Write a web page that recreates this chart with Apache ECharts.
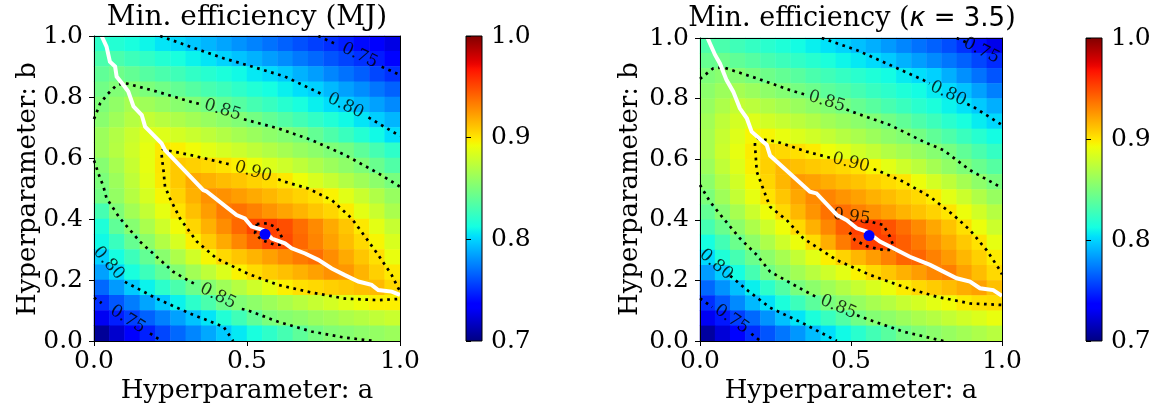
<!DOCTYPE html>
<html>
<head>
<meta charset="utf-8">
<script src="https://cdn.jsdelivr.net/npm/echarts@6/dist/echarts.min.js"></script>
<style>
  html, body { margin: 0; padding: 0; background: #fff; }
  #chart { width: 1151px; height: 411px; }
</style>
</head>
<body>
<div id="chart"></div>
<script>
// ---------- data ----------
// cell centres along both hyperparameter axes (20 x 20 grid)
const cellCenters = [0.025, 0.075, 0.125, 0.175, 0.225, 0.275, 0.325, 0.375, 0.425, 0.475,
                     0.525, 0.575, 0.625, 0.675, 0.725, 0.775, 0.825, 0.875, 0.925, 0.975];
const aTicks = [0, 0.5, 1];
const bTicks = [0, 0.2, 0.4, 0.6, 0.8, 1];
const colorTicks = [0.7, 0.8, 0.9, 1.0];

// minimum efficiency, rows from b = 0.975 (top) down to b = 0.025, columns a = 0.025 .. 0.975
const effMJ = [
  [0.822,0.818,0.814,0.810,0.805,0.801,0.796,0.791,0.786,0.781,0.776,0.771,0.766,0.761,0.756,0.751,0.746,0.740,0.733,0.726],
  [0.832,0.832,0.827,0.823,0.818,0.814,0.809,0.805,0.800,0.795,0.790,0.784,0.779,0.773,0.768,0.762,0.757,0.752,0.745,0.738],
  [0.840,0.845,0.841,0.836,0.832,0.828,0.823,0.819,0.815,0.811,0.806,0.802,0.797,0.790,0.784,0.777,0.771,0.765,0.758,0.752],
  [0.846,0.852,0.854,0.850,0.846,0.841,0.836,0.831,0.827,0.822,0.817,0.813,0.808,0.803,0.799,0.792,0.785,0.779,0.772,0.766],
  [0.851,0.858,0.866,0.863,0.859,0.855,0.852,0.847,0.841,0.836,0.830,0.825,0.819,0.814,0.808,0.803,0.798,0.791,0.785,0.778],
  [0.855,0.863,0.871,0.876,0.872,0.868,0.864,0.860,0.856,0.852,0.847,0.841,0.835,0.829,0.823,0.817,0.811,0.805,0.798,0.791],
  [0.862,0.870,0.878,0.886,0.886,0.882,0.878,0.874,0.870,0.865,0.861,0.857,0.853,0.849,0.841,0.833,0.826,0.818,0.811,0.803],
  [0.862,0.871,0.880,0.889,0.899,0.897,0.893,0.888,0.883,0.879,0.874,0.870,0.865,0.860,0.856,0.851,0.847,0.839,0.830,0.822],
  [0.854,0.866,0.877,0.889,0.900,0.909,0.907,0.904,0.901,0.897,0.891,0.885,0.880,0.874,0.868,0.862,0.857,0.851,0.843,0.834],
  [0.850,0.862,0.874,0.887,0.899,0.909,0.919,0.917,0.913,0.910,0.906,0.903,0.899,0.892,0.884,0.877,0.870,0.863,0.856,0.849],
  [0.847,0.859,0.871,0.883,0.895,0.906,0.917,0.927,0.927,0.923,0.919,0.915,0.910,0.906,0.902,0.896,0.887,0.878,0.869,0.860],
  [0.830,0.851,0.864,0.876,0.889,0.901,0.912,0.923,0.934,0.937,0.932,0.926,0.921,0.916,0.910,0.905,0.898,0.888,0.878,0.867],
  [0.816,0.840,0.854,0.867,0.880,0.893,0.905,0.917,0.928,0.940,0.951,0.953,0.948,0.938,0.929,0.919,0.910,0.899,0.888,0.877],
  [0.811,0.826,0.842,0.856,0.870,0.883,0.897,0.908,0.919,0.930,0.941,0.951,0.950,0.940,0.931,0.922,0.913,0.904,0.895,0.884],
  [0.799,0.813,0.827,0.841,0.855,0.868,0.881,0.895,0.904,0.910,0.916,0.922,0.928,0.934,0.938,0.928,0.919,0.910,0.902,0.890],
  [0.785,0.801,0.814,0.827,0.840,0.853,0.864,0.874,0.885,0.896,0.903,0.908,0.912,0.917,0.922,0.927,0.925,0.916,0.907,0.899],
  [0.768,0.783,0.797,0.809,0.821,0.832,0.844,0.854,0.863,0.871,0.880,0.889,0.897,0.902,0.904,0.907,0.909,0.912,0.914,0.905],
  [0.751,0.763,0.774,0.786,0.797,0.809,0.821,0.832,0.844,0.852,0.857,0.862,0.867,0.872,0.877,0.882,0.887,0.892,0.897,0.897],
  [0.730,0.746,0.756,0.766,0.775,0.785,0.795,0.805,0.817,0.828,0.840,0.850,0.854,0.857,0.861,0.864,0.868,0.871,0.875,0.878],
  [0.706,0.720,0.735,0.747,0.758,0.768,0.777,0.787,0.797,0.806,0.814,0.822,0.830,0.839,0.847,0.852,0.854,0.857,0.859,0.862]
];
const effKappa = [
  [0.833,0.832,0.828,0.824,0.820,0.816,0.812,0.808,0.804,0.800,0.794,0.789,0.783,0.777,0.771,0.766,0.760,0.752,0.742,0.728],
  [0.842,0.844,0.840,0.836,0.831,0.827,0.823,0.819,0.815,0.810,0.806,0.802,0.797,0.790,0.784,0.778,0.772,0.766,0.758,0.750],
  [0.851,0.855,0.853,0.849,0.845,0.841,0.837,0.832,0.828,0.824,0.820,0.816,0.812,0.807,0.803,0.799,0.789,0.780,0.771,0.762],
  [0.856,0.862,0.865,0.861,0.857,0.853,0.848,0.844,0.839,0.835,0.830,0.825,0.821,0.816,0.812,0.807,0.802,0.795,0.785,0.775],
  [0.860,0.868,0.876,0.873,0.869,0.865,0.861,0.857,0.853,0.848,0.842,0.837,0.831,0.826,0.820,0.815,0.809,0.804,0.797,0.789],
  [0.864,0.874,0.882,0.886,0.881,0.877,0.873,0.869,0.864,0.860,0.856,0.852,0.846,0.840,0.833,0.827,0.820,0.814,0.807,0.801],
  [0.866,0.877,0.886,0.895,0.895,0.890,0.885,0.881,0.876,0.871,0.867,0.862,0.857,0.853,0.847,0.840,0.833,0.826,0.819,0.812],
  [0.866,0.879,0.889,0.898,0.906,0.904,0.902,0.898,0.892,0.887,0.881,0.876,0.870,0.865,0.860,0.854,0.848,0.840,0.832,0.824],
  [0.862,0.875,0.886,0.897,0.907,0.915,0.912,0.909,0.907,0.904,0.901,0.895,0.888,0.880,0.873,0.865,0.858,0.851,0.843,0.836],
  [0.856,0.869,0.881,0.894,0.905,0.915,0.924,0.922,0.918,0.914,0.911,0.907,0.903,0.900,0.891,0.882,0.874,0.865,0.857,0.849],
  [0.850,0.863,0.876,0.889,0.901,0.910,0.920,0.929,0.931,0.926,0.922,0.917,0.913,0.908,0.904,0.898,0.888,0.879,0.869,0.860],
  [0.841,0.854,0.866,0.879,0.892,0.904,0.915,0.926,0.937,0.938,0.932,0.927,0.922,0.916,0.911,0.906,0.900,0.891,0.881,0.871],
  [0.830,0.843,0.856,0.868,0.880,0.892,0.904,0.917,0.930,0.943,0.953,0.955,0.947,0.938,0.929,0.920,0.911,0.902,0.891,0.879],
  [0.813,0.829,0.844,0.857,0.868,0.880,0.891,0.903,0.918,0.934,0.949,0.954,0.952,0.943,0.935,0.926,0.918,0.909,0.901,0.889],
  [0.802,0.816,0.830,0.844,0.856,0.866,0.876,0.887,0.897,0.906,0.915,0.923,0.932,0.941,0.941,0.932,0.924,0.915,0.907,0.898],
  [0.784,0.798,0.813,0.830,0.846,0.856,0.864,0.872,0.880,0.888,0.896,0.904,0.910,0.917,0.923,0.930,0.933,0.922,0.913,0.904],
  [0.768,0.781,0.794,0.808,0.821,0.835,0.849,0.856,0.863,0.870,0.877,0.884,0.891,0.898,0.904,0.908,0.913,0.918,0.922,0.912],
  [0.751,0.764,0.778,0.792,0.804,0.815,0.827,0.838,0.849,0.855,0.860,0.866,0.871,0.877,0.882,0.888,0.893,0.898,0.902,0.903],
  [0.730,0.744,0.756,0.768,0.781,0.794,0.805,0.815,0.825,0.835,0.846,0.853,0.857,0.862,0.867,0.871,0.876,0.881,0.885,0.890],
  [0.708,0.723,0.738,0.751,0.762,0.772,0.782,0.793,0.803,0.811,0.820,0.829,0.837,0.846,0.852,0.856,0.860,0.864,0.868,0.872]
];

// iso-efficiency contours: each entry is one drawn piece of a level curve, [a, b] points
const contoursMJ = [
  { level: 0.75, pts: [[0.733,1.0],[0.765,0.985],[0.798,0.970]] },
  { level: 0.75, pts: [[0.940,0.899],[0.970,0.886],[1.0,0.872]] },
  { level: 0.80, pts: [[0.216,1.0],[0.314,0.965],[0.423,0.927],[0.499,0.905],[0.624,0.867],[0.750,0.807]] },
  { level: 0.80, pts: [[0.897,0.733],[1.0,0.672]] },
  { level: 0.85, pts: [[0.0,0.728],[0.003,0.735],[0.02,0.779],[0.045,0.810],[0.069,0.834],[0.096,0.847],[0.205,0.818],[0.314,0.785],[0.346,0.777]] },
  { level: 0.85, pts: [[0.490,0.727],[0.602,0.697],[0.711,0.659],[0.820,0.610],[0.929,0.550],[1.0,0.506]] },
  { level: 0.90, pts: [[0.602,0.530],[0.624,0.522],[0.700,0.500],[0.777,0.462],[0.842,0.402],[0.886,0.342],[0.929,0.282],[0.973,0.216],[0.995,0.172],[1.0,0.165]] },
  { level: 0.90, pts: [[0.440,0.580],[0.314,0.610],[0.225,0.628],[0.221,0.612],[0.222,0.600],[0.227,0.560],[0.232,0.506],[0.248,0.468],[0.281,0.402],[0.336,0.326],[0.400,0.271],[0.504,0.220],[0.602,0.184],[0.711,0.159],[0.820,0.139],[0.929,0.134],[1.0,0.138]] },
  { level: 0.95, pts: [[0.532,0.383],[0.565,0.386],[0.597,0.372],[0.613,0.342],[0.624,0.317],[0.592,0.315],[0.548,0.331],[0.526,0.353],[0.532,0.383]] },
  { level: 0.85, pts: [[0.0,0.592],[0.003,0.584],[0.014,0.550],[0.031,0.506],[0.041,0.468],[0.085,0.402],[0.150,0.326],[0.259,0.227],[0.314,0.195],[0.336,0.184]] },
  { level: 0.85, pts: [[0.483,0.105],[0.499,0.102],[0.602,0.063],[0.711,0.031],[0.820,0.011],[0.918,0.0]] },
  { level: 0.80, pts: [[0.101,0.194],[0.205,0.139],[0.314,0.090],[0.423,0.047],[0.455,0.0]] },
  { level: 0.75, pts: [[0.0,0.142],[0.025,0.124]] },
  { level: 0.75, pts: [[0.183,0.025],[0.221,0.0]] }
];
const contourLabelsMJ = [
  { level: 0.75, at: [0.868,0.936], angle: -26 },
  { level: 0.80, at: [0.822,0.771], angle: -26 },
  { level: 0.85, at: [0.420,0.757], angle: -17 },
  { level: 0.90, at: [0.520,0.555], angle: -16 },
  { level: 0.85, at: [0.405,0.147], angle: -27 },
  { level: 0.80, at: [0.048,0.255], angle: -48 },
  { level: 0.75, at: [0.110,0.071], angle: -32 }
];

const contoursKappa = [
  { level: 0.75, pts: [[0.850,1.0],[0.885,0.984]] },
  { level: 0.80, pts: [[0.403,1.0],[0.519,0.960],[0.629,0.911],[0.740,0.861],[0.760,0.850]] },
  { level: 0.80, pts: [[0.885,0.782],[0.905,0.773],[1.0,0.713]] },
  { level: 0.85, pts: [[0.0,0.865],[0.044,0.900],[0.077,0.903],[0.188,0.867],[0.298,0.828],[0.355,0.811]] },
  { level: 0.85, pts: [[0.485,0.764],[0.519,0.751],[0.629,0.713],[0.740,0.658],[0.806,0.630],[0.894,0.564],[1.0,0.505]] },
  { level: 0.90, pts: [[0.575,0.567],[0.585,0.564],[0.673,0.526],[0.762,0.476],[0.839,0.416],[0.894,0.366],[0.949,0.300],[0.993,0.234],[1.0,0.220]] },
  { level: 0.90, pts: [[0.430,0.605],[0.353,0.625],[0.254,0.658],[0.190,0.668],[0.182,0.655],[0.182,0.647],[0.188,0.559],[0.221,0.471],[0.232,0.443],[0.287,0.399],[0.342,0.339],[0.453,0.267],[0.563,0.218],[0.673,0.179],[0.784,0.146],[0.894,0.124],[1.0,0.119]] },
  { level: 0.95, pts: [[0.548,0.393],[0.563,0.394],[0.607,0.383],[0.629,0.344],[0.646,0.300],[0.596,0.302],[0.552,0.313],[0.513,0.333],[0.494,0.360],[0.494,0.369]] },
  { level: 0.85, pts: [[0.0,0.515],[0.033,0.460],[0.077,0.405],[0.132,0.339],[0.188,0.284],[0.232,0.229],[0.342,0.168],[0.395,0.140]] },
  { level: 0.85, pts: [[0.520,0.085],[0.563,0.069],[0.673,0.031],[0.806,0.0]] },
  { level: 0.80, pts: [[0.100,0.215],[0.160,0.165],[0.232,0.110],[0.342,0.058],[0.453,0.0]] },
  { level: 0.75, pts: [[0.0,0.141],[0.040,0.112]] },
  { level: 0.75, pts: [[0.170,0.024],[0.200,0.0]] }
];
const contourLabelsKappa = [
  { level: 0.75, at: [0.932,0.958], angle: -27 },
  { level: 0.80, at: [0.822,0.816], angle: -25 },
  { level: 0.85, at: [0.420,0.790], angle: -17 },
  { level: 0.90, at: [0.500,0.588], angle: -14 },
  { level: 0.95, at: [0.502,0.410], angle: -8 },
  { level: 0.85, at: [0.458,0.112], angle: -23 },
  { level: 0.80, at: [0.053,0.252], angle: -40 },
  { level: 0.75, at: [0.105,0.072], angle: -35 }
];

// path where the two efficiencies meet, and the best (a, b) on it
const ridgeMJ = [[0.025,1.0],[0.041,0.965],[0.052,0.916],[0.069,0.900],[0.074,0.867],[0.096,0.839],[0.112,0.818],
  [0.129,0.769],[0.156,0.741],[0.167,0.703],[0.221,0.648],[0.232,0.626],[0.357,0.495],[0.368,0.490],[0.466,0.413],
  [0.493,0.402],[0.515,0.375],[0.553,0.364],[0.581,0.336],[0.624,0.320],[0.646,0.304],[0.690,0.287],[0.733,0.266],
  [0.777,0.238],[0.820,0.216],[0.864,0.195],[0.907,0.184],[0.929,0.167],[0.973,0.162],[1.0,0.151]];
const ridgeKappa = [[0.025,1.0],[0.050,0.944],[0.066,0.916],[0.088,0.861],[0.110,0.823],[0.132,0.768],[0.155,0.735],
  [0.171,0.691],[0.221,0.647],[0.232,0.612],[0.364,0.493],[0.386,0.487],[0.453,0.416],[0.486,0.399],[0.519,0.372],
  [0.552,0.361],[0.596,0.328],[0.640,0.306],[0.695,0.278],[0.762,0.251],[0.806,0.229],[0.850,0.207],[0.894,0.196],
  [0.927,0.174],[0.971,0.168],[1.0,0.149]];
const bestMJ = [0.559, 0.350];
const bestKappa = [0.560, 0.348];

// ---------- styling helpers ----------
const SERIF = '"DejaVu Serif", serif';
const SANS = '"DejaVu Sans", sans-serif';
const TICK_FS = 25;
const LABEL_FS = 26;
const TITLE_FS = 28;

// matplotlib "jet" colour map
function jet(t) {
  const seg = pts => {
    for (let i = 1; i < pts.length; i++) {
      if (t <= pts[i][0]) {
        const [x0, y0] = pts[i - 1], [x1, y1] = pts[i];
        return y0 + (y1 - y0) * (t - x0) / (x1 - x0);
      }
    }
    return pts[pts.length - 1][1];
  };
  const r = seg([[0,0],[0.35,0],[0.66,1],[0.89,1],[1,0.5]]);
  const g = seg([[0,0],[0.125,0],[0.375,1],[0.64,1],[0.91,0],[1,0]]);
  const b = seg([[0,0.5],[0.11,1],[0.34,1],[0.65,0],[1,0]]);
  return 'rgb(' + Math.round(r * 255) + ',' + Math.round(g * 255) + ',' + Math.round(b * 255) + ')';
}
const jetColors = [];
for (let i = 0; i <= 64; i++) jetColors.push(jet(i / 64));

function cells(rows) {
  const out = [];
  rows.forEach((row, r) => row.forEach((v, c) => out.push([c, rows.length - 1 - r, v])));
  return out;
}

const panels = [
  { grid: { left: 94, top: 36, width: 306, height: 305 }, cb: { left: 466, top: 36, width: 16, height: 305 } },
  { grid: { left: 700, top: 38, width: 302, height: 303 }, cb: { left: 1086, top: 38, width: 16, height: 303 } }
];

const grids = [];
panels.forEach(p => grids.push(Object.assign({ containLabel: false, outerBoundsMode: 'none' }, p.grid)));
panels.forEach(p => grids.push(Object.assign({ containLabel: false, outerBoundsMode: 'none' }, p.cb)));

const frameAxisLine = { show: true, onZero: false, lineStyle: { color: '#000', width: 1 } };
const tickStyle = { show: true, inside: false, length: 5, lineStyle: { color: '#000', width: 1 } };
const labelStyle = { color: '#000', fontFamily: SERIF, fontSize: TICK_FS, formatter: v => Number(v).toFixed(1) };

const xAxes = [], yAxes = [];
[0, 1].forEach(g => {
  // category axes carry the heatmap cells and draw the top / right frame
  xAxes.push({ type: 'category', gridIndex: g, data: cellCenters, position: 'top', z: 6,
    axisLine: frameAxisLine, axisTick: { show: false }, axisLabel: { show: false }, splitLine: { show: false } });
  xAxes.push({ type: 'value', gridIndex: g, min: 0, max: 1, position: 'bottom', z: 6,
    axisLine: frameAxisLine, axisTick: Object.assign({ customValues: aTicks }, tickStyle),
    axisLabel: Object.assign({ customValues: aTicks, margin: 8 }, labelStyle), splitLine: { show: false } });
  yAxes.push({ type: 'category', gridIndex: g, data: cellCenters, position: 'right', z: 6,
    axisLine: frameAxisLine, axisTick: { show: false }, axisLabel: { show: false }, splitLine: { show: false } });
  yAxes.push({ type: 'value', gridIndex: g, min: 0, max: 1, position: 'left', z: 6,
    axisLine: frameAxisLine, axisTick: Object.assign({ customValues: bTicks }, tickStyle),
    axisLabel: Object.assign({ customValues: bTicks, margin: 11 }, labelStyle), splitLine: { show: false } });
});
[2, 3].forEach(g => {
  xAxes.push({ type: 'value', gridIndex: g, min: 0, max: 1, show: false });
  yAxes.push({ type: 'value', gridIndex: g, min: 0.7, max: 1.0, position: 'right', z: 6,
    axisLine: { show: false }, axisTick: Object.assign({ customValues: colorTicks }, tickStyle),
    axisLabel: Object.assign({ customValues: colorTicks, margin: 9 }, labelStyle), splitLine: { show: false } });
});

function heatmap(rows, xi, yi) {
  return { type: 'heatmap', xAxisIndex: xi, yAxisIndex: yi, data: cells(rows), silent: true,
    itemStyle: { borderWidth: 0 }, emphasis: { disabled: true }, progressive: 0, z: 1 };
}
function contourLines(list, xi, yi) {
  return list.map(c => ({ type: 'line', xAxisIndex: xi, yAxisIndex: yi, data: c.pts, name: c.level.toFixed(2),
    showSymbol: false, symbol: 'none', silent: true, z: 3, clip: true,
    lineStyle: { color: '#000', width: 2.7, type: [2.7, 4.6], cap: 'butt' } }));
}
function contourLabels(list, xi, yi) {
  return { type: 'scatter', xAxisIndex: xi, yAxisIndex: yi, symbolSize: 1, silent: true, z: 4,
    itemStyle: { color: 'rgba(0,0,0,0)' },
    data: list.map(l => ({ value: l.at, level: l.level, label: { rotate: l.angle } })),
    label: { show: true, position: 'inside', align: 'center', verticalAlign: 'middle',
      formatter: p => p.data.level.toFixed(2), color: '#000', fontFamily: SERIF, fontSize: 17 } };
}
function ridge(pts, xi, yi) {
  return { type: 'line', xAxisIndex: xi, yAxisIndex: yi, data: pts, showSymbol: false, symbol: 'none',
    silent: true, z: 5, lineStyle: { color: '#fff', width: 4, join: 'miter' } };
}
function best(pt, xi, yi) {
  return { type: 'scatter', xAxisIndex: xi, yAxisIndex: yi, data: [pt], symbolSize: 11, silent: true, z: 6,
    itemStyle: { color: '#0000ff', opacity: 1 } };
}

const series = [
  heatmap(effMJ, 0, 0),
  heatmap(effKappa, 2, 2),
  ...contourLines(contoursMJ, 1, 1),
  ...contourLines(contoursKappa, 3, 3),
  contourLabels(contourLabelsMJ, 1, 1),
  contourLabels(contourLabelsKappa, 3, 3),
  ridge(ridgeMJ, 1, 1),
  ridge(ridgeKappa, 3, 3),
  best(bestMJ, 1, 1),
  best(bestKappa, 3, 3)
];

function text(x, y, str, size, extra) {
  return Object.assign({ type: 'text', x: x, y: y, silent: true, z: 10,
    style: { text: str, fill: '#000', fontFamily: SERIF, fontSize: size,
      align: 'center', verticalAlign: 'middle', textAlign: 'center', textVerticalAlign: 'middle' } }, extra || {});
}

const graphics = [];
panels.forEach(p => {
  const cb = p.cb;
  const stops = jetColors.map((c, i) => ({ offset: i / (jetColors.length - 1), color: c }));
  graphics.push({ type: 'rect', silent: true, z: 1,
    shape: { x: cb.left, y: cb.top, width: cb.width, height: cb.height },
    style: { fill: new echarts.graphic.LinearGradient(0, 1, 0, 0, stops), stroke: '#000', lineWidth: 1 } });
});
graphics.push(text(247, 18, 'Min. efficiency (MJ)', TITLE_FS));
graphics.push({ type: 'text', x: 852, y: 19, silent: true, z: 10,
  style: { text: 'Min. efficiency ({k|κ}{m| = 3.5})', fill: '#000', fontFamily: SERIF, fontSize: 27,
    align: 'center', verticalAlign: 'middle', textAlign: 'center', textVerticalAlign: 'middle',
    rich: { k: { fontFamily: SANS, fontStyle: 'italic', fontSize: 27, fill: '#000' },
            m: { fontFamily: SANS, fontSize: 26, fill: '#000' } } } });
graphics.push(text(247, 391, 'Hyperparameter: a', LABEL_FS));
graphics.push(text(851, 391, 'Hyperparameter: a', LABEL_FS));
graphics.push(text(28, 189, 'Hyperparameter: b', LABEL_FS, { rotation: Math.PI / 2 }));
graphics.push(text(630, 189, 'Hyperparameter: b', LABEL_FS, { rotation: Math.PI / 2 }));

const chart = echarts.init(document.getElementById('chart'), null, { renderer: 'canvas' });
chart.setOption({
  animation: false,
  backgroundColor: '#fff',
  grid: grids,
  xAxis: xAxes,
  yAxis: yAxes,
  visualMap: {
    type: 'continuous', show: false, min: 0.7, max: 1.0, seriesIndex: [0, 1],
    inRange: { color: jetColors }
  },
  graphic: graphics,
  series: series
});
</script>
</body>
</html>
